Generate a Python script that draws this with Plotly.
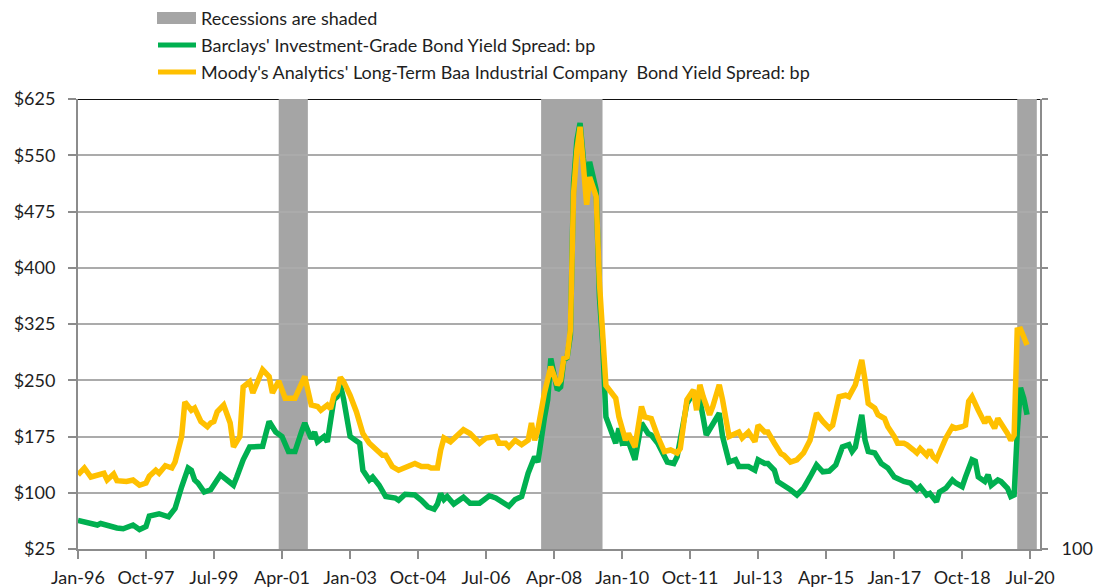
import plotly.graph_objects as go

# Monthly corporate bond yield spreads, basis points
barclays_dates = [
    "1996-01", "1996-05", "1996-07", "1996-08", "1996-11", "1997-01", "1997-03", "1997-06",
    "1997-08", "1997-10", "1997-11", "1998-02", "1998-05", "1998-07", "1998-09", "1998-11",
    "1998-12", "1999-01", "1999-02", "1999-04", "1999-06", "1999-09", "1999-11", "2000-01",
    "2000-02", "2000-04", "2000-06", "2000-08", "2000-10", "2000-11", "2000-12", "2001-02",
    "2001-04", "2001-06", "2001-08", "2001-10", "2001-11", "2002-01", "2002-02", "2002-03",
    "2002-05", "2002-06", "2002-08", "2002-09", "2002-10", "2002-11", "2003-01", "2003-04",
    "2003-05", "2003-07", "2003-08", "2003-10", "2003-12", "2004-03", "2004-04", "2004-06",
    "2004-09", "2004-11", "2005-01", "2005-03", "2005-04", "2005-05", "2005-06", "2005-07",
    "2005-09", "2005-12", "2006-02", "2006-05", "2006-08", "2006-10", "2006-12", "2007-02",
    "2007-04", "2007-06", "2007-08", "2007-10", "2007-11", "2007-12", "2008-01", "2008-02",
    "2008-03", "2008-05", "2008-06", "2008-07", "2008-08", "2008-09", "2008-10", "2008-11",
    "2008-12", "2009-01", "2009-02", "2009-03", "2009-05", "2009-06", "2009-07", "2009-08",
    "2009-11", "2009-12", "2010-01", "2010-03", "2010-05", "2010-07", "2010-09", "2010-10",
    "2010-12", "2011-03", "2011-05", "2011-06", "2011-09", "2011-11", "2012-01", "2012-03",
    "2012-07", "2012-08", "2012-10", "2012-12", "2013-01", "2013-04", "2013-06", "2013-07",
    "2013-09", "2013-10", "2013-12", "2014-01", "2014-03", "2014-05", "2014-07", "2014-09",
    "2014-11", "2015-01", "2015-03", "2015-05", "2015-07", "2015-09", "2015-11", "2015-12",
    "2016-01", "2016-03", "2016-04", "2016-05", "2016-07", "2016-09", "2016-11", "2017-01",
    "2017-04", "2017-06", "2017-08", "2017-09", "2017-11", "2017-12", "2018-02", "2018-03",
    "2018-05", "2018-07", "2018-08", "2018-10", "2018-11", "2019-01", "2019-02", "2019-03",
    "2019-05", "2019-06", "2019-07", "2019-09", "2019-10", "2019-12", "2020-01", "2020-02",
    "2020-03", "2020-04", "2020-05", "2020-06",
]
barclays_bp = [
    63, 60, 57, 59, 55, 53, 52, 57,
    51, 55, 69, 72, 68, 79, 108, 133,
    130, 117, 113, 101, 104, 124, 117, 110,
    121, 144, 161, 162, 162, 179, 195, 181,
    175, 155, 155, 181, 193, 172, 181, 168,
    175, 168, 224, 228, 244, 225, 175, 166,
    130, 117, 121, 110, 95, 93, 90, 98,
    97, 90, 81, 78, 85, 99, 91, 95,
    85, 94, 86, 86, 96, 93, 88, 82,
    91, 95, 126, 148, 141, 175, 200, 224,
    279, 237, 241, 277, 280, 310, 513, 570,
    593, 545, 513, 541, 504, 361, 299, 201,
    166, 186, 166, 168, 144, 193, 179, 177,
    166, 141, 139, 148, 219, 233, 224, 177,
    206, 175, 141, 144, 135, 135, 130, 144,
    139, 139, 130, 115, 110, 104, 97, 106,
    121, 137, 128, 129, 137, 161, 164, 155,
    161, 204, 170, 155, 153, 139, 133, 121,
    115, 113, 104, 108, 97, 99, 88, 101,
    106, 117, 113, 108, 121, 144, 142, 121,
    115, 124, 110, 117, 115, 106, 95, 97,
    180, 240, 226, 204,
]

moodys_dates = [
    "1996-01", "1996-03", "1996-05", "1996-09", "1996-10", "1996-12", "1997-01", "1997-04",
    "1997-06", "1997-08", "1997-10", "1997-11", "1998-01", "1998-02", "1998-04", "1998-06",
    "1998-07", "1998-09", "1998-10", "1998-12", "1999-01", "1999-03", "1999-05", "1999-06",
    "1999-07", "1999-08", "1999-10", "1999-12", "2000-01", "2000-03", "2000-04", "2000-06",
    "2000-07", "2000-09", "2000-10", "2000-12", "2001-01", "2001-03", "2001-05", "2001-08",
    "2001-10", "2001-11", "2002-01", "2002-03", "2002-04", "2002-06", "2002-07", "2002-08",
    "2002-09", "2002-10", "2002-11", "2003-01", "2003-03", "2003-05", "2003-07", "2003-09",
    "2003-11", "2003-12", "2004-02", "2004-04", "2004-06", "2004-09", "2004-11", "2005-01",
    "2005-02", "2005-04", "2005-05", "2005-06", "2005-08", "2005-10", "2005-12", "2006-02",
    "2006-05", "2006-07", "2006-10", "2006-11", "2007-01", "2007-02", "2007-04", "2007-06",
    "2007-08", "2007-09", "2007-10", "2007-11", "2007-12", "2008-01", "2008-03", "2008-05",
    "2008-06", "2008-07", "2008-08", "2008-09", "2008-10", "2008-11", "2008-12", "2009-01",
    "2009-02", "2009-03", "2009-05", "2009-06", "2009-07", "2009-08", "2009-11", "2009-12",
    "2010-02", "2010-03", "2010-05", "2010-07", "2010-08", "2010-10", "2010-12", "2011-02",
    "2011-04", "2011-06", "2011-07", "2011-09", "2011-11", "2011-12", "2012-01", "2012-02",
    "2012-04", "2012-05", "2012-07", "2012-08", "2012-10", "2013-01", "2013-02", "2013-04",
    "2013-06", "2013-07", "2013-09", "2013-10", "2013-12", "2014-02", "2014-03", "2014-05",
    "2014-07", "2014-09", "2014-11", "2015-01", "2015-03", "2015-05", "2015-06", "2015-08",
    "2015-10", "2015-11", "2016-01", "2016-03", "2016-04", "2016-05", "2016-07", "2016-08",
    "2016-10", "2016-11", "2017-01", "2017-02", "2017-04", "2017-05", "2017-07", "2017-08",
    "2017-09", "2017-11", "2017-12", "2018-01", "2018-02", "2018-04", "2018-05", "2018-07",
    "2018-08", "2018-10", "2018-11", "2018-12", "2019-01", "2019-03", "2019-05", "2019-06",
    "2019-08", "2019-09", "2019-10", "2019-12", "2020-01", "2020-02", "2020-03", "2020-04",
    "2020-05", "2020-06",
]
moodys_bp = [
    124, 133, 121, 126, 117, 125, 116, 115,
    117, 110, 113, 122, 130, 126, 136, 133,
    141, 175, 221, 210, 213, 195, 188, 193,
    195, 208, 217, 193, 161, 175, 241, 248,
    233, 253, 264, 255, 233, 249, 226, 226,
    246, 255, 217, 215, 210, 217, 212, 230,
    235, 254, 248, 230, 208, 179, 166, 157,
    150, 150, 135, 130, 133, 139, 135, 135,
    133, 133, 157, 173, 168, 177, 184, 179,
    166, 173, 175, 166, 166, 161, 170, 164,
    170, 193, 170, 185, 210, 233, 268, 244,
    250, 279, 281, 317, 499, 557, 588, 535,
    484, 521, 495, 380, 300, 243, 226, 201,
    170, 179, 161, 215, 201, 199, 175, 155,
    157, 153, 159, 224, 237, 210, 244, 228,
    204, 215, 244, 224, 175, 181, 173, 181,
    168, 190, 181, 181, 166, 152, 150, 141,
    144, 153, 170, 206, 195, 186, 190, 228,
    230, 228, 244, 277, 250, 219, 213, 204,
    199, 188, 175, 166, 166, 164, 157, 153,
    159, 150, 157, 148, 144, 166, 173, 188,
    186, 188, 190, 222, 228, 210, 193, 201,
    186, 199, 193, 179, 170, 177, 317, 318,
    308, 297,
]

# NBER recession periods (start, end)
recession_starts = ["2001-03-01", "2007-12-01", "2020-03-01"]
recession_ends = ["2001-11-30", "2009-06-30", "2020-09-01"]

x_tick_dates = [
    "1996-01-01", "1997-10-01", "1999-07-01", "2001-04-01", "2003-01-01",
    "2004-10-01", "2006-07-01", "2008-04-01", "2010-01-01", "2011-10-01",
    "2013-07-01", "2015-04-01", "2017-01-01", "2018-10-01", "2020-07-01",
]
x_tick_labels = [
    "Jan-96", "Oct-97", "Jul-99", "Apr-01", "Jan-03", "Oct-04", "Jul-06", "Apr-08",
    "Jan-10", "Oct-11", "Jul-13", "Apr-15", "Jan-17", "Oct-18", "Jul-20",
]
y_ticks = [25, 100, 175, 250, 325, 400, 475, 550, 625]
y_tick_labels = ["$25", "$100", "$175", "$250", "$325", "$400", "$475", "$550", "$625"]
right_tick_labels = ["100", "", "", "", "", "", "", "", ""]

legend_labels = [
    "Recessions are shaded",
    "Barclays' Investment-Grade Bond Yield Spread: bp",
    "Moody's Analytics' Long-Term Baa Industrial Company \u00a0Bond Yield Spread: bp",
]

GREEN = "#00B050"
GOLD = "#FFC000"
SHADE = "#A5A5A5"
GRID = "#ABABAB"
AXIS = "#8C8C8C"
TEXT = "#1E1E1E"
FONT = "Lato"

W, H = 1104, 588
ML, MR, MT, MB = 78, 64, 99, 39
PW, PH = W - ML - MR, H - MT - MB


def px_x(px):
    return (px - ML) / PW


def px_y(py):
    return (H - MB - py) / PH


fig = go.Figure()

fig.add_trace(go.Scatter(
    x=barclays_dates, y=barclays_bp, mode="lines", name=legend_labels[1],
    line=dict(color=GREEN, width=5.5), yaxis="y", showlegend=False,
))
fig.add_trace(go.Scatter(
    x=moodys_dates, y=moodys_bp, mode="lines", name=legend_labels[2],
    line=dict(color=GOLD, width=5.5), yaxis="y2", showlegend=False,
))

shapes = [
    # dark top border of the plot area
    dict(type="line", xref="paper", yref="y", x0=0, x1=1, y0=625, y1=625,
         line=dict(color="#111111", width=2), layer="between"),
]
for s, e in zip(recession_starts, recession_ends):
    shapes.append(dict(type="rect", xref="x", yref="paper", x0=s, x1=e, y0=0, y1=1,
                       fillcolor=SHADE, line=dict(width=0), layer="between"))

# legend keys
shapes.append(dict(type="rect", xref="paper", yref="paper",
                   x0=px_x(157), x1=px_x(196), y0=px_y(24), y1=px_y(12),
                   fillcolor=SHADE, line=dict(width=0)))
shapes.append(dict(type="line", xref="paper", yref="paper",
                   x0=px_x(158), x1=px_x(196), y0=px_y(45), y1=px_y(45),
                   line=dict(color=GREEN, width=5)))
shapes.append(dict(type="line", xref="paper", yref="paper",
                   x0=px_x(158), x1=px_x(196), y0=px_y(72), y1=px_y(72),
                   line=dict(color=GOLD, width=5)))

annotations = []
for label, cy in zip(legend_labels, [18, 45, 72]):
    annotations.append(dict(
        text=label, xref="paper", yref="paper", x=px_x(199), y=px_y(cy),
        xanchor="left", yanchor="middle", showarrow=False,
        font=dict(family=FONT, size=18, color=TEXT),
    ))

fig.update_layout(
    width=W, height=H,
    margin=dict(l=ML, r=MR, t=MT, b=MB, pad=0, autoexpand=False),
    paper_bgcolor="white", plot_bgcolor="white",
    showlegend=False,
    shapes=shapes,
    annotations=annotations,
    font=dict(family=FONT, size=18, color=TEXT),
    xaxis=dict(
        type="date", range=["1996-01-01", "2020-10-01"],
        tickvals=x_tick_dates, ticktext=x_tick_labels,
        showgrid=False, zeroline=False, automargin=False,
        showline=True, linecolor=AXIS, linewidth=2,
        ticks="outside", ticklen=8, tickwidth=2, tickcolor=AXIS,
        tickfont=dict(family=FONT, size=18, color=TEXT),
        ticklabelstandoff=3,
    ),
    yaxis=dict(
        range=[25, 625], tickvals=y_ticks, ticktext=y_tick_labels,
        showgrid=True, gridcolor=GRID, gridwidth=2, zeroline=False, automargin=False,
        showline=True, linecolor=AXIS, linewidth=2,
        ticks="outside", ticklen=8, tickwidth=2, tickcolor=AXIS,
        tickfont=dict(family=FONT, size=18, color=TEXT),
        ticklabelstandoff=9,
    ),
    yaxis2=dict(
        range=[25, 625], overlaying="y", side="right",
        tickvals=y_ticks, ticktext=right_tick_labels,
        showgrid=False, zeroline=False, automargin=False,
        showline=True, linecolor=AXIS, linewidth=2,
        ticks="outside", ticklen=6, tickwidth=2, tickcolor=AXIS,
        tickfont=dict(family=FONT, size=18, color=TEXT),
        ticklabelstandoff=10,
    ),
)

fig.write_html("out.html")
